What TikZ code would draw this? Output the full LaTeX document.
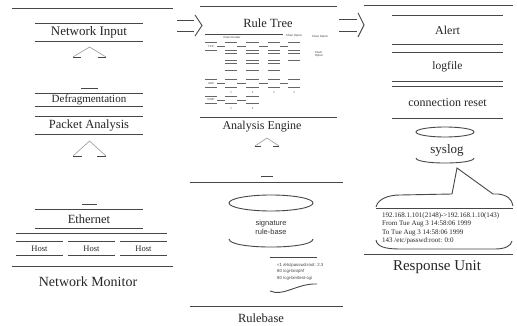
\documentclass[tikz,border=0pt]{standalone}
\usepackage{fontspec}
\setmainfont{Liberation Serif}
\newfontfamily\sansf{Liberation Sans}
\newcommand\tblines[2][hl]{\draw[#1] (#2.north west) -- (#2.north east) (#2.south west) -- (#2.south east);}
% up block arrow: x, tip y, shoulder y, bottom y, half head, half shaft
\newcommand\blockup[6]{%
  \draw[fl] (#1-#5,#3) -- (#1,#2) -- (#1+#5,#3);
  \draw[hl] (#1-#5,#3) -- (#1-#6,#3) (#1+#6,#3) -- (#1+#5,#3) (#1-#6,#4) -- (#1+#6,#4);}
% right block arrow: tail x, shaft end x, tip x, centre y, half shaft, half head
\newcommand\blockright[6]{%
  \draw[hl] (#1,#4-#5) -- (#2,#4-#5) (#1,#4+#5) -- (#2,#4+#5);
  \draw[hl] (#2+1,#4-#6) -- (#3,#4) -- (#2+1,#4+#6);}
\begin{document}
\begin{tikzpicture}[x=1pt,y=-1pt,
  hl/.style={draw=black!72,line width=0.9pt},
  tl/.style={draw=black!60,line width=0.6pt},
  fl/.style={draw=black!40,line width=0.6pt},
  box/.style 2 args={minimum width=#1pt,minimum height=#2pt,inner sep=0pt,text=black!85},
  fs/.style={font=\fontsize{#1}{#1}\selectfont,text=black!85},
  lbl/.style={inner sep=0pt},
  tiny/.style={inner sep=0pt,text=black!75,font=\sansf\fontsize{2.8}{3}\selectfont},
]
\fill[white] (0,0) rectangle (517,326);
\useasboundingbox (0,0) rectangle (517,326);

% ---------------- Network Monitor ----------------
\node[box={161}{257}] (monitor) at (92.5,137.5) {};
\tblines{monitor}
\node[box={108}{17},fs=13] (netin) at (89,32.5) {Network Input};
\tblines{netin}
\node[box={108}{12},fs=11] (defrag) at (89,100) {Defragmentation};
\tblines{defrag}
\node[box={108}{17},fs=12.5] (packet) at (89,125.5) {Packet Analysis};
\tblines{packet}
\node[box={108}{18},fs=12.5] (ether) at (89,219) {Ethernet};
\tblines{ether}
\coordinate (busl) at (16,233);
\coordinate (busr) at (167,233);
\draw[hl] (busl) -- (busr);
\node[box={47}{13},fs=8.5] (host1) at (39.5,248.5) {Host};
\node[box={47}{13},fs=8.5] (host2) at (91.5,248.5) {Host};
\node[box={47}{13},fs=8.5] (host3) at (143.5,248.5) {Host};
\tblines{host1}\tblines{host2}\tblines{host3}
\node[lbl,fs=14] (monlbl) at (88,282) {Network Monitor};

\blockup{89.5}{47}{57}{88}{16.5}{8.5}
\blockup{89.5}{141}{156}{204}{16.5}{7.5}

% ---------------- Analysis Engine ----------------
\node[box={136}{110}] (engine) at (268.5,62) {};
\tblines{engine}
\node[lbl,fs=12.5] (ruletree) at (268,23) {Rule Tree};
\draw[hl] (205,34) -- (283,34);
\node[tiny] (lab1) at (232,37.5) {Chain Header};
\node[tiny] (lab2) at (294,36) {Chain Option};
\node[tiny] (lab3) at (320,36.5) {Chain Option};
\node[tiny,align=left] (lab4) at (319,54.5) {Chain\\[0.5pt]Option};

\node[box={12}{7},tiny] (tcp) at (211,46.5) {TCP};
\node[box={12}{7},tiny] (udp) at (211,83.5) {UDP};
\node[box={12}{6},tiny] (icmp) at (211,100) {ICMP};
\tblines[tl]{tcp}\tblines[tl]{udp}\tblines[tl]{icmp}
\foreach \i/\x in {1/231,2/252.5,3/274,4/294}{
  \node[box={12}{7}] (t\i) at (\x,46.5) {};
  \node[box={12}{6}] (oa\i) at (\x,57) {};
  \node[box={12}{7}] (u\i) at (\x,83.5) {};
  \tblines[tl]{t\i}\tblines[tl]{oa\i}\tblines[tl]{u\i}
  \fill[black!60] (\x,92) circle (0.6pt);
}
\foreach \i/\x in {1/231,2/252.5,3/274}{
  \node[box={12}{6}] (ob\i) at (\x,67) {};
  \tblines[tl]{ob\i}
}
\foreach \i/\x in {1/231,2/252.5}{
  \node[box={12}{6}] (c\i) at (\x,100) {};
  \tblines[tl]{c\i}
  \fill[black!60] (\x,108) circle (0.6pt);
}
\draw[tl] (tcp.east) -- (t1.west) (t1.east) -- (t2.west) (t2.east) -- (t3.west) (t3.east) -- (t4.west);
\draw[tl] (udp.east) -- (u1.west) (u1.east) -- (u2.west) (u2.east) -- (u3.west) (u3.east) -- (u4.west);
\draw[tl] (icmp.east) -- (c1.west) (c1.east) -- (c2.west);
\node[lbl,fs=12] (englbl) at (262,127) {Analysis Engine};

\blockup{267}{138}{146}{176}{12}{6}

% ---------------- Rulebase ----------------
\node[box={153}{123}] (rulebase) at (266.5,244.5) {};
\tblines{rulebase}
\draw[hl] (271,203) ellipse [x radius=42pt, y radius=8pt];
\draw[hl] (229,239) .. controls (229,249.7) and (313,249.7) .. (313,239);
\node[inner sep=0pt,align=center,font=\sansf\fontsize{7.5}{9}\selectfont,text=black!80] (sig) at (271,227.5) {signature\\rule-base};
\draw[hl] (270,257) -- (317,257);
\node[anchor=north west,inner sep=0pt,align=left,text=black!75,font=\sansf\fontsize{4.3}{6.5}\selectfont] (doc) at (277,263) {<1 /etc/passwd:root: 2.3\\80 /cgi-bin/phf\\80 /cgi-bin/test-cgi};
\draw[hl] (270,291) .. controls (283,297) and (298,283) .. (317,284);
\node[lbl,fs=12.5] (rblbl) at (261,318) {Rulebase};

% ---------------- Response Unit ----------------
\node[box={149}{248}] (response) at (438.5,130) {};
\tblines{response}
\node[box={111}{28},fs=12] (alert) at (447.5,30) {Alert};
\node[box={111}{28},fs=11.5] (logfile) at (447.5,67) {logfile};
\node[box={111}{31},fs=12] (reset) at (447.5,102.5) {connection reset};
\tblines{alert}\tblines{logfile}\tblines{reset}
\draw[hl] (445,132) ellipse [x radius=29pt, y radius=5pt];
\draw[hl] (416,158) .. controls (416,164.7) and (474,164.7) .. (474,158);
\node[lbl,fs=13] (syslog) at (447,150) {syslog};
\coordinate (ptip) at (457,168);
\draw[hl] (376,207) .. controls (378,199) and (388,195) .. (400,195) -- (452,194) -- (ptip) -- (493,194) -- (498,194) .. controls (507,195) and (512,199) .. (513,206);
\draw[hl] (376,208) -- (513,208);
\node[anchor=north west,inner sep=0pt,align=left,text=black!85,font=\fontsize{7}{8.5}\selectfont] (logtxt) at (382,212) {192.168.1.101(2148)->192.168.1.10(143)\\From Tue Aug 3 14:58:06 1999\\To Tue Aug 3 14:58:06 1999\\143 /etc/passwd:root: 0:0};
\draw[hl] (376,240) .. controls (377,247) and (386,249) .. (400,249) -- (495,249) .. controls (505,249) and (511,246) .. (512,241);
\node[lbl,fs=15] (resplbl) at (437,267) {Response Unit};

% ---------------- block arrows between panels ----------------
\blockright{177}{194}{202}{25.5}{5.5}{10.5}
\blockright{339}{357}{364}{25}{6}{12}
\end{tikzpicture}
\end{document}
